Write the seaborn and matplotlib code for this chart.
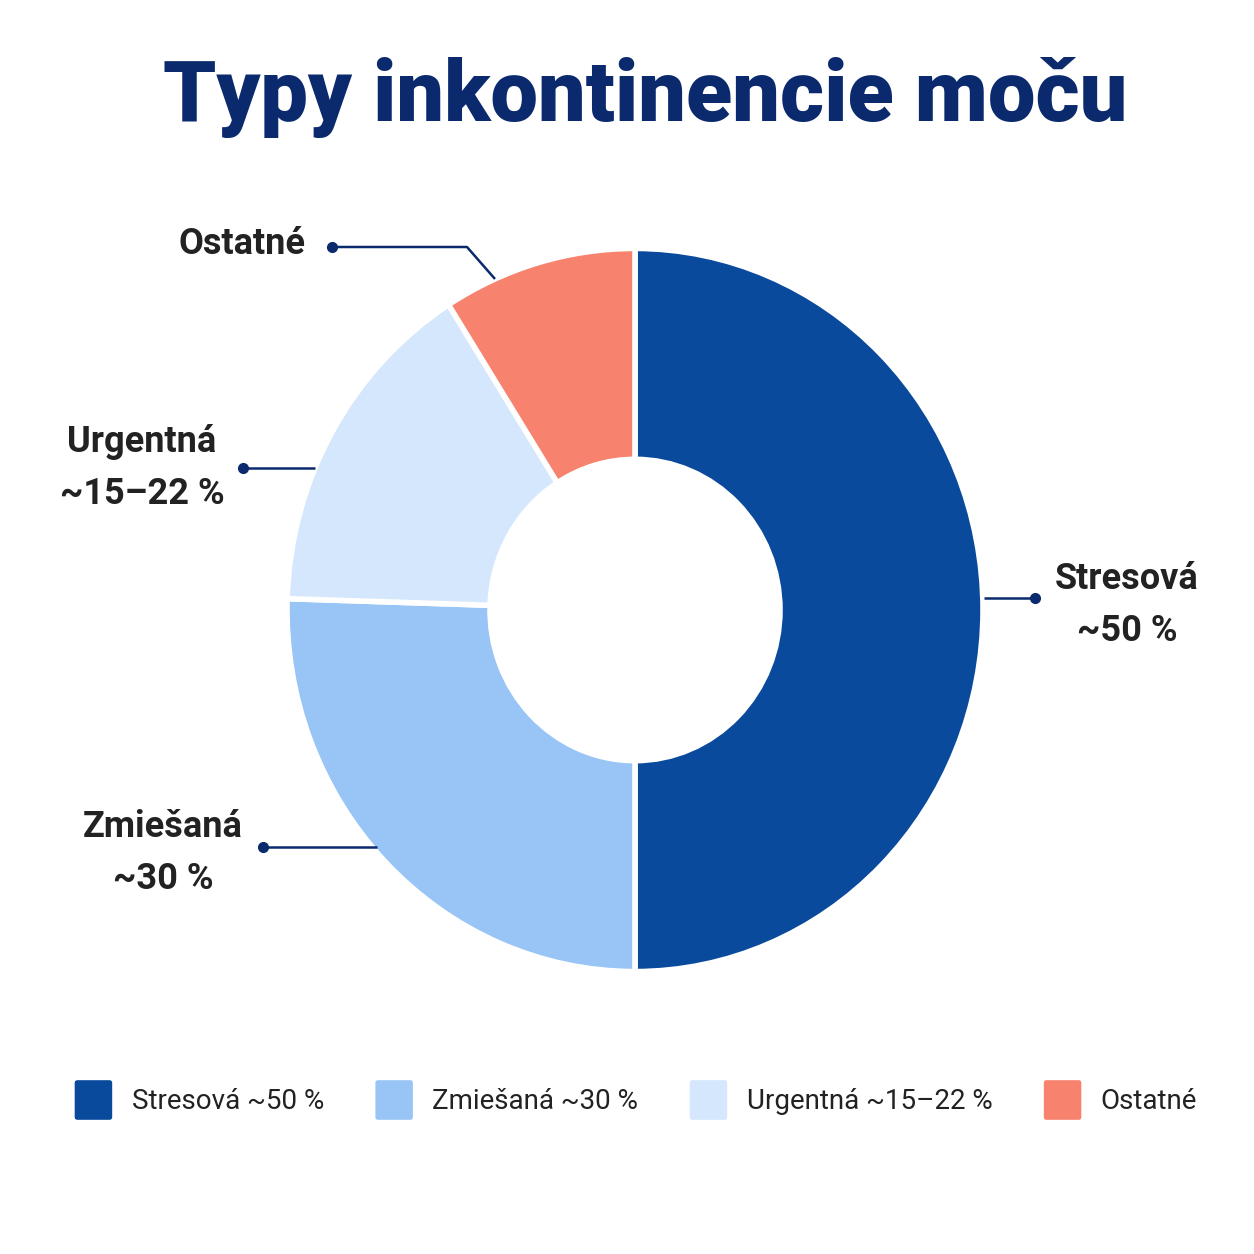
import matplotlib
matplotlib.use("Agg")
import matplotlib.pyplot as plt
import seaborn as sns
from matplotlib.patches import FancyBboxPatch
from matplotlib.legend_handler import HandlerPatch

# data
categories = ["Stresová", "Zmiešaná", "Urgentná", "Ostatné"]
shares = [50, 25.5, 15.5, 9]
legend_labels = ["Stresová ~50 %", "Zmiešaná ~30 %", "Urgentná ~15–22 %", "Ostatné"]
callout_labels = ["Stresová\n~50 %", "Zmiešaná\n~30 %", "Urgentná\n~15–22 %", "Ostatné"]
colors = ["#0A4A9C", "#99C5F6", "#D5E7FC", "#F7826E"]

NAVY = "#0B2A6E"
TEXT = "#222222"
W = H = 1254
SQUASH = 1.039  # the donut in the reference is a touch taller than wide


def px(x, y):
    # pixel (from top-left) -> data coords
    return x, H - y


def rounded_handle(legend, orig_handle, xdescent, ydescent, width, height, fontsize):
    cy = -ydescent + height / 2
    h = width * 1.05
    return FancyBboxPatch((-xdescent, cy - h / 2), width, h,
                          boxstyle="round,pad=0,rounding_size=4")


def main():
    sns.set_theme(style="white")
    plt.rcParams["font.family"] = ["Roboto", "DejaVu Sans"]

    fig = plt.figure(figsize=(12.54, 12.54), dpi=100)
    fig.patch.set_facecolor("white")

    # donut on its own axes
    pax = fig.add_axes([0, 0, 1, 1])
    wedges, _ = pax.pie(
        shares, colors=colors, startangle=90, counterclock=False,
        center=(635, (H - 610) / SQUASH), radius=348, frame=True,
        wedgeprops=dict(width=203, edgecolor="white", linewidth=4),
    )
    pax.set_xlim(0, W)
    pax.set_ylim(0, H / SQUASH)
    pax.set_aspect("auto")
    pax.axis("off")

    ax = fig.add_axes([0, 0, 1, 1])
    ax.set_xlim(0, W)
    ax.set_ylim(0, H)
    ax.axis("off")

    # title
    ax.text(*px(645, 97), "Typy inkontinencie moču", ha="center", va="center",
            fontsize=61, fontweight="black", color=NAVY)

    # callouts: text center, leader path (pixel coords), dot at first point
    callouts = {
        "Stresová": ((1127, 605), [(1035, 598), (984, 598)]),
        "Zmiešaná": ((163, 853), [(263, 847), (377, 847)]),
        "Urgentná": ((142, 468), [(243, 468), (315, 468)]),
        "Ostatné": ((242, 244), [(332, 247), (467, 247), (495, 279)]),
    }
    for cat, lab in zip(categories, callout_labels):
        (tx, ty), path = callouts[cat]
        ax.text(*px(tx, ty), lab, ha="center", va="center", fontsize=26,
                fontweight="bold", color=TEXT, linespacing=1.55)
        xs = [p[0] for p in path]
        ys = [H - p[1] for p in path]
        ax.plot(xs, ys, color=NAVY, lw=1.8, solid_capstyle="butt")
        ax.plot(xs[0], ys[0], "o", color=NAVY, ms=7)

    # legend
    fig.legend(wedges, legend_labels, loc="center", bbox_to_anchor=(0.506, 1 - 1100 / H),
               ncol=4, frameon=False, fontsize=20, handlelength=1.55, handleheight=1.6,
               handletextpad=0.6, columnspacing=1.75, labelcolor=TEXT,
               handler_map={w: HandlerPatch(patch_func=rounded_handle) for w in wedges})

    fig.savefig("out.png", dpi=100, facecolor="white")


if __name__ == "__main__":
    main()
